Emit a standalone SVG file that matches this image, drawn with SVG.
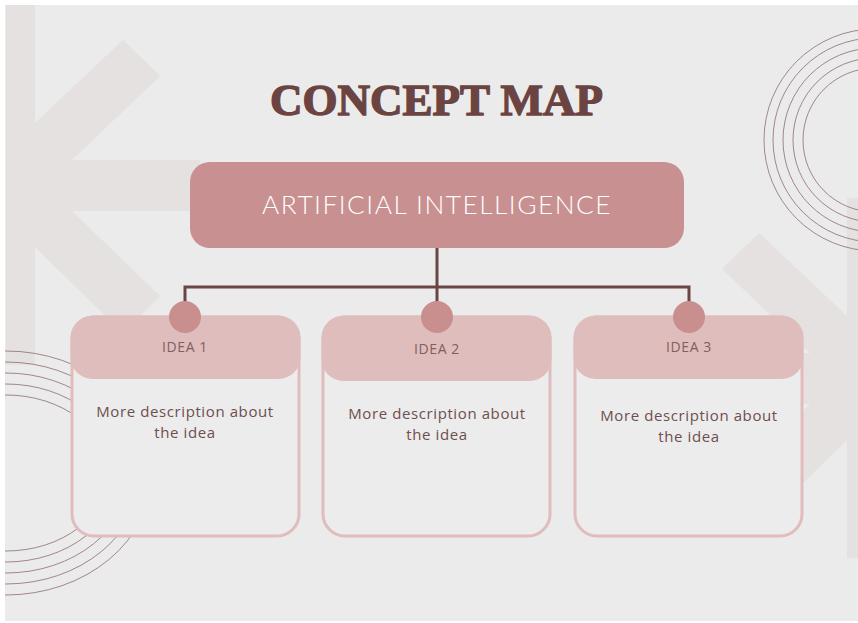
<svg xmlns="http://www.w3.org/2000/svg" width="858" height="623" viewBox="0 0 858 623">
<defs>
<style>
.deco{fill:#e5e1e0}
.ring{fill:none;stroke:#8a6666;stroke-width:0.9;stroke-opacity:0.85}
.conn{fill:none;stroke:#6b4444;stroke-width:3}
.card{fill:#ececec;stroke:#e2bcbc;stroke-width:3}
.head{fill:#dfbdbd}
.dot{fill:#c98e8e}
.title{font-family:"Liberation Serif",serif;font-weight:bold;font-size:45px;fill:#6b4442;stroke:#6b4442;stroke-width:1.4}
.main{font-family:"Lato","Open Sans",sans-serif;font-weight:300;font-size:26px;fill:#ffffff;letter-spacing:1.5px}
.idea{font-family:"Open Sans",sans-serif;font-size:14px;fill:#80605f;letter-spacing:0.6px}
.desc{font-family:"Open Sans",sans-serif;font-size:15px;fill:#6e4f4f;letter-spacing:0.6px}
</style>
<clipPath id="slide"><rect x="5" y="5" width="853" height="616"/></clipPath>
</defs>
<rect x="0" y="0" width="858" height="623" fill="#ffffff"/>
<rect x="5" y="5" width="853" height="616" fill="#ebebeb"/>
<g id="background" clip-path="url(#slide)">
  <rect class="deco" x="6" y="5" width="29" height="360"/>
  <rect class="deco" x="35" y="160" width="165" height="51"/>
  <polygon class="deco" points="35,123 123,40 160,76 72,160 35,160"/>
  <polygon class="deco" points="35,211 72,211 160,296 123,333 35,247"/>
  <rect class="deco" x="847" y="198" width="29" height="360"/>
  <rect class="deco" x="682" y="353" width="165" height="51"/>
  <polygon class="deco" points="847,316 759,233 722,269 810,353 847,353"/>
  <polygon class="deco" points="847,404 810,404 722,489 759,526 847,440"/>
  <circle class="ring" cx="875" cy="140" r="111"/>
  <circle class="ring" cx="875" cy="140" r="102"/>
  <circle class="ring" cx="875" cy="140" r="92"/>
  <circle class="ring" cx="875" cy="140" r="82"/>
  <circle class="ring" cx="875" cy="140" r="72"/>
  <ellipse class="ring" cx="6" cy="473" rx="146" ry="122"/>
  <ellipse class="ring" cx="6" cy="473" rx="135" ry="111"/>
  <ellipse class="ring" cx="6" cy="473" rx="124" ry="100"/>
  <ellipse class="ring" cx="6" cy="473" rx="113" ry="89"/>
  <ellipse class="ring" cx="6" cy="473" rx="102" ry="78"/>
</g>
<text id="title" class="title" x="436.5" y="115" text-anchor="middle" textLength="333" lengthAdjust="spacingAndGlyphs">CONCEPT MAP</text>
<g id="connectors">
  <path class="conn" d="M437,248 V287 M185,305 V287 H689 V305 M437,287 V305"/>
</g>
<g id="node-main">
  <rect x="190" y="162" width="494" height="86" rx="20" fill="#c89090"/>
  <text class="main" x="437" y="214" text-anchor="middle" textLength="350" lengthAdjust="spacingAndGlyphs">ARTIFICIAL INTELLIGENCE</text>
</g>
<g id="node-idea1">
  <rect class="card" x="72" y="317" width="227" height="219" rx="22"/>
  <rect class="head" x="70.5" y="315.5" width="230" height="63.5" rx="22"/>
  <circle class="dot" cx="185" cy="317" r="16"/>
  <text class="idea" x="185" y="352" text-anchor="middle">IDEA 1</text>
  <text class="desc" x="185" y="417" text-anchor="middle">More description about</text>
  <text class="desc" x="185" y="438" text-anchor="middle">the idea</text>
</g>
<g id="node-idea2">
  <rect class="card" x="323" y="317" width="227" height="219" rx="22"/>
  <rect class="head" x="321.5" y="315.5" width="230" height="65.5" rx="22"/>
  <circle class="dot" cx="437" cy="317" r="16"/>
  <text class="idea" x="437" y="354" text-anchor="middle">IDEA 2</text>
  <text class="desc" x="437" y="419" text-anchor="middle">More description about</text>
  <text class="desc" x="437" y="440" text-anchor="middle">the idea</text>
</g>
<g id="node-idea3">
  <rect class="card" x="575" y="317" width="227" height="219" rx="22"/>
  <rect class="head" x="573.5" y="315.5" width="230" height="63.5" rx="22"/>
  <circle class="dot" cx="689" cy="317" r="16"/>
  <text class="idea" x="689" y="352" text-anchor="middle">IDEA 3</text>
  <text class="desc" x="689" y="421" text-anchor="middle">More description about</text>
  <text class="desc" x="689" y="442" text-anchor="middle">the idea</text>
</g>
</svg>
